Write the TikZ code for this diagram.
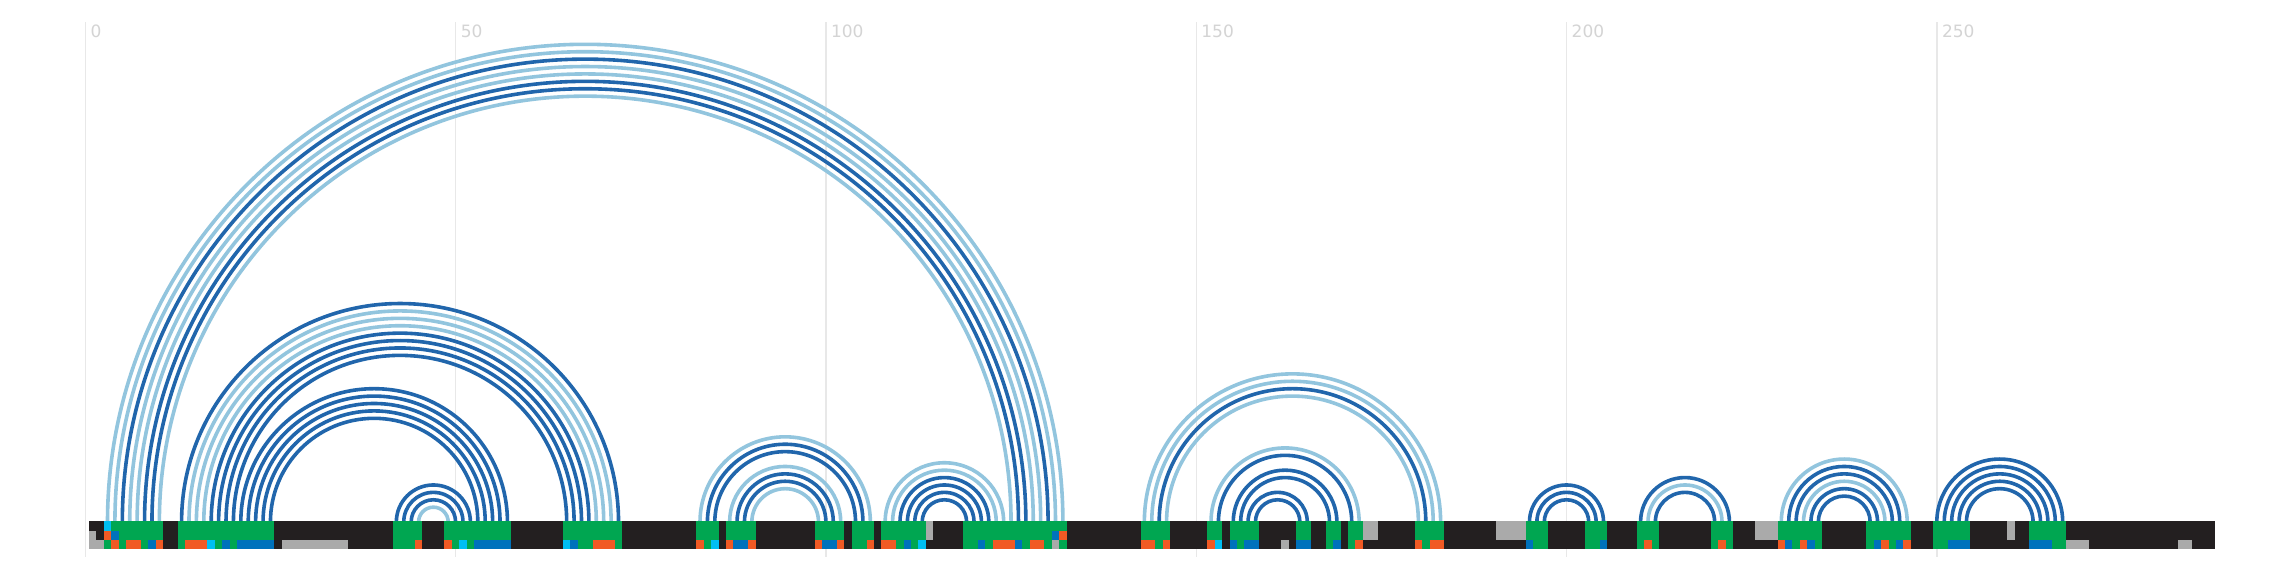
\documentclass[tikz,border=0pt]{standalone}
\usepackage{fontspec}
\setmainfont{DejaVu Sans}
\definecolor{arcD}{HTML}{2166AC}
\definecolor{arcL}{HTML}{92C5DE}
\definecolor{barK}{HTML}{231F20}
\definecolor{cG}{HTML}{00A651}
\definecolor{cO}{HTML}{F15A24}
\definecolor{cB}{HTML}{0072BC}
\definecolor{cC}{HTML}{00BFF3}
\definecolor{cY}{HTML}{AAAAAA}
\definecolor{gridc}{HTML}{E8E8E8}
\definecolor{labc}{HTML}{D4D4D4}
\tikzset{
  arcline/.style={line width=3.6pt},
  gridline/.style={draw=gridc, line width=1.4pt},
  ticklabel/.style={inner sep=0pt, anchor=north west, text=labc, font=\fontsize{17}{17}\selectfont}
}
\begin{document}
\begin{tikzpicture}[x=1pt,y=1pt]
\useasboundingbox (0,0) rectangle (2296,578);
\fill[white] (0,0) rectangle (2296,578);
% grid lines and labels
\foreach \m/\t in {0/0,1/50,2/100,3/150,4/200,5/250}{
  \draw[gridline] ({85.3+370.3*\m},21) -- ({85.3+370.3*\m},556);
  \node[ticklabel] (lab\m) at ({90.3+370.3*\m},553) {\t};
}
% arcs
\foreach \i/\j/\c in {
 2/131/L,3/130/L,4/129/D,5/128/L,6/127/L,7/126/D,8/125/D,9/124/L,
 12/71/D,13/70/L,14/69/L,15/68/L,16/67/D,17/66/D,18/65/D,19/64/D,
 20/56/D,21/55/D,22/54/D,23/53/D,24/52/D,
 41/51/D,42/50/D,43/49/D,44/48/L,
 82/105/L,83/104/D,84/103/D,86/101/L,87/100/D,88/99/D,89/98/L,
 107/123/L,108/122/L,109/121/D,110/120/D,111/119/D,112/118/D,
 142/182/L,143/181/L,144/180/D,145/179/L,
 151/171/L,152/170/D,154/168/D,155/167/D,156/164/D,157/163/D,
 194/204/D,195/203/D,196/202/D,
 209/221/D,210/220/L,211/219/D,
 228/245/L,229/244/D,230/243/D,231/242/L,232/241/D,233/240/D,
 249/266/D,250/265/D,251/264/D,252/263/D,253/262/D}{
  \draw[arcline, draw=arc\c] ({89+7.406*(\i+0.5)},56) arc[start angle=180, end angle=0, radius={3.703*(\j-\i)}];
}
% bar background
\fill[barK] (89,29) rectangle ({89+7.406*287},57);
% rows 1-2 green blocks
\foreach \a/\b in {3/9,12/24,41/44,48/56,64/71,82/84,86/89,98/101,103/105,107/112,118/131,
 142/145,151/152,154/157,163/164,167/168,170/171,179/182,194/196,202/204,209/211,219/221,
 228/233,240/245,249/253,262/266}{
  \fill[cG] ({89+7.406*\a},38) rectangle ({89+7.406*(\b+1)},57);
}
% rows 1-2 gray blocks
\foreach \a/\b in {113/113,172/173,190/193,225/227,259/259}{
  \fill[cY] ({89+7.406*\a},38) rectangle ({89+7.406*(\b+1)},57);
}
% single-row exceptions: col/row bottom/row top/colour
\foreach \a/\yb/\yt/\c in {2/47/57/cC,2/38/47/cO,3/38/47/cB,0/38/47/cY,130/38/47/cB,131/38/47/cO}{
  \fill[\c] ({89+7.406*\a},\yb) rectangle ({89+7.406*(\a+1)},\yt);
}
% row 3
\foreach \a/\b/\c in {0/1/cY,2/2/cG,3/3/cO,4/4/cG,5/6/cO,7/7/cG,8/8/cB,9/9/cO,
 12/12/cG,13/15/cO,16/16/cC,17/17/cG,18/18/cB,19/19/cG,20/24/cB,26/34/cY,
 41/43/cG,44/44/cO,48/48/cO,49/49/cG,50/50/cC,51/51/cG,52/56/cB,
 64/64/cC,65/65/cB,66/67/cG,68/70/cO,71/71/cG,
 82/82/cO,83/83/cG,84/84/cC,86/86/cO,87/88/cB,89/89/cO,
 98/98/cO,99/100/cB,101/101/cO,103/104/cG,105/105/cO,
 107/108/cO,109/109/cG,110/110/cB,111/111/cG,112/112/cC,
 118/119/cG,120/120/cB,121/121/cG,122/124/cO,125/125/cB,126/126/cG,127/128/cO,129/129/cG,130/130/cY,131/131/cG,
 142/143/cO,144/144/cG,145/145/cO,151/151/cO,152/152/cC,154/154/cB,155/155/cG,156/157/cB,
 161/161/cY,163/164/cB,167/167/cG,168/168/cB,170/170/cG,171/171/cO,
 179/179/cO,180/180/cG,181/182/cO,194/194/cB,195/196/cG,202/203/cG,204/204/cB,
 209/209/cG,210/210/cO,211/211/cG,219/219/cG,220/220/cO,221/221/cG,
 228/228/cO,229/229/cB,230/230/cG,231/231/cO,232/232/cB,233/233/cG,
 240/240/cG,241/241/cB,242/242/cO,243/243/cG,244/244/cB,245/245/cO,
 249/250/cG,251/253/cB,262/264/cB,265/266/cG,267/269/cY,282/283/cY}{
  \fill[\c] ({89+7.406*\a},29) rectangle ({89+7.406*(\b+1)},38);
}
\end{tikzpicture}
\end{document}
